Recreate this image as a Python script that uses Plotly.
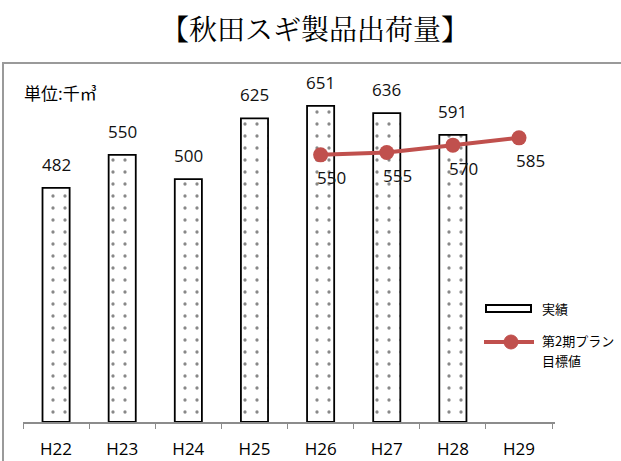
import plotly.graph_objects as go

categories = ["H22", "H23", "H24", "H25", "H26", "H27", "H28", "H29"]
actual_values = [482, 550, 500, 625, 651, 636, 591, None]
plan_categories = ["H26", "H27", "H28", "H29"]
plan_values = [550, 555, 570, 585]

title_text = "【秋田スギ製品出荷量】"
unit_text = "単位:千㎥"
actual_name = "実績"
plan_name_lines = ["第2期プラン", "目標値"]

RED = "#C0504D"
FONT = "Open Sans, Noto Sans CJK JP, sans-serif"
CJK = "Noto Sans CJK JP, sans-serif"

# plot area in window pixels: x 23..555, y 82..422
L, R, T, B = 23, 66, 82, 39
PW, PH = 621 - L - R, 461 - T - B


def px(xw):
    return (xw - L) / PW


def py(yw):
    return (461 - B - yw) / PH


fig = go.Figure()
fig.add_trace(go.Bar(
    x=categories, y=actual_values, name=actual_name, width=0.41, showlegend=False,
    marker=dict(color="white", line=dict(color="black", width=1.8),
                pattern=dict(shape=".", fgcolor="#111", bgcolor="white", size=12, solidity=0.06)),
))
fig.add_trace(go.Scatter(
    x=plan_categories, y=plan_values, name="".join(plan_name_lines), mode="lines+markers",
    showlegend=False, line=dict(color=RED, width=4), marker=dict(color=RED, size=15),
))

annotations = []
for c, v in zip(categories, actual_values):
    if v is None:
        continue
    annotations.append(dict(x=c, y=v, xref="x", yref="y", text=str(v), showarrow=False,
                            yanchor="bottom", yshift=10, font=dict(family=FONT, size=17, color="#111")))
for c, v in zip(plan_categories, plan_values):
    annotations.append(dict(x=c, y=v, xref="x", yref="y", text=str(v), showarrow=False,
                            xshift=11, yshift=-23, font=dict(family=FONT, size=17, color="#111")))
annotations.append(dict(x=px(315), y=py(28), xref="paper", yref="paper", text=title_text,
                        showarrow=False, yanchor="middle", xanchor="center",
                        font=dict(family="Noto Serif CJK JP, " + CJK, size=28, color="black")))
annotations.append(dict(x=px(22), y=py(92), xref="paper", yref="paper", text=unit_text,
                        showarrow=False, xanchor="left", yanchor="middle",
                        font=dict(family=CJK, size=17, color="black")))
# legend (drawn by hand to match the wide bar swatch)
annotations.append(dict(x=px(540), y=py(308), xref="paper", yref="paper", text=actual_name,
                        showarrow=False, xanchor="left", yanchor="middle",
                        font=dict(family=CJK, size=13, color="black")))
for i, line in enumerate(plan_name_lines):
    annotations.append(dict(x=px(540), y=py(340 + 20 * i), xref="paper", yref="paper", text=line,
                            showarrow=False, xanchor="left", yanchor="middle",
                            font=dict(family=CJK, size=13, color="black")))

shapes = [
    dict(type="rect", xref="paper", yref="paper",
         x0=px(3), x1=px(640), y0=py(480), y1=py(63),
         line=dict(color="#9a9a9a", width=2), layer="below"),
    dict(type="rect", xref="paper", yref="paper",
         x0=px(486), x1=px(531), y0=py(312), y1=py(305),
         line=dict(color="black", width=2), fillcolor="white"),
    dict(type="line", xref="paper", yref="paper",
         x0=px(484), x1=px(534), y0=py(342), y1=py(342),
         line=dict(color=RED, width=4)),
    dict(type="circle", xref="paper", yref="paper",
         x0=px(504), x1=px(518), y0=py(349), y1=py(335),
         line=dict(color=RED, width=1), fillcolor=RED),
]

fig.update_layout(
    width=621, height=461,
    margin=dict(l=L, r=R, t=T, b=B, autoexpand=False),
    paper_bgcolor="white", plot_bgcolor="white",
    showlegend=False,
    annotations=annotations,
    shapes=shapes,
)
fig.update_xaxes(type="category", categoryorder="array", categoryarray=categories,
                 automargin=False,
                 showline=True, linecolor="#8c8c8c", linewidth=1.5,
                 ticks="outside", tickson="boundaries", ticklen=5, tickcolor="#8c8c8c",
                 ticklabelstandoff=11,
                 tickfont=dict(family=FONT, size=17, color="black"), showgrid=False)
fig.update_yaxes(range=[0, 700], visible=False, showgrid=False, automargin=False)

fig.write_html("out.html", config={"displayModeBar": False},
               post_script="document.body.style.margin='0';")
